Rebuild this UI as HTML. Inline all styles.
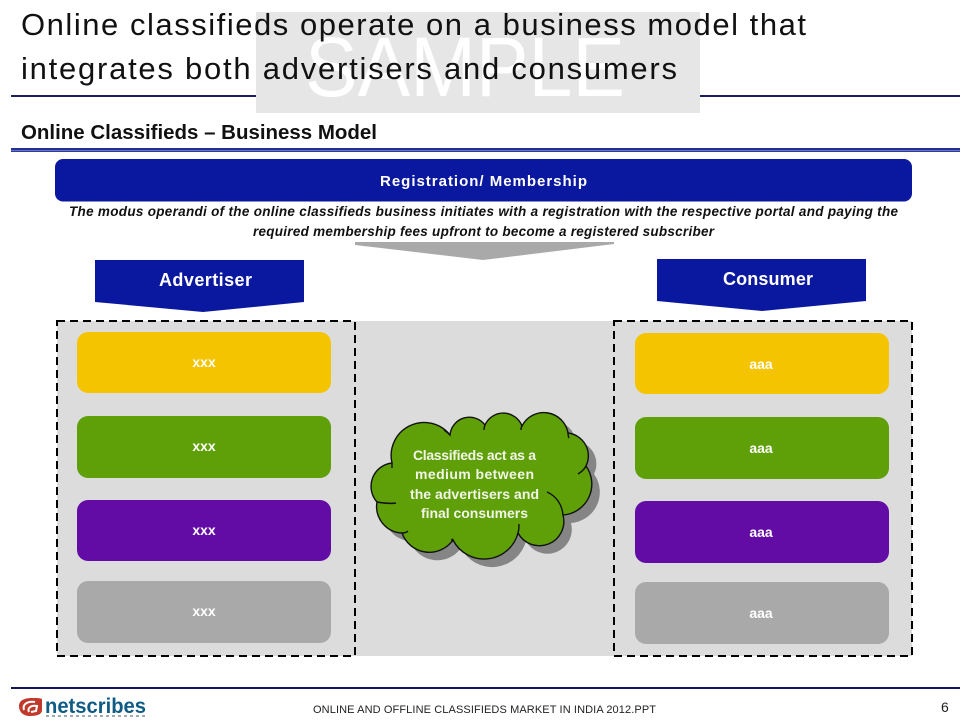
<!DOCTYPE html>
<html>
<head>
<meta charset="utf-8">
<style>
html,body{margin:0;padding:0;background:#fff;width:971px;height:728px;overflow:hidden}
svg{display:block}
text{font-family:"Liberation Sans",sans-serif}
</style>
</head>
<body>
<svg width="971" height="728" viewBox="0 0 971 728" xmlns="http://www.w3.org/2000/svg">
<rect width="971" height="728" fill="#fff"/>

<!-- header rule and watermark -->
<rect x="11" y="95" width="949" height="2" fill="#1b1f5e"/>
<rect x="256" y="12" width="444" height="101" fill="#e6e6e6"/>
<text x="305" y="96" font-size="84" fill="#fff" textLength="320" lengthAdjust="spacingAndGlyphs">SAMPLE</text>

<!-- title -->
<text x="21" y="35" font-size="31" fill="#111" textLength="785">Online classifieds operate on a business model that</text>
<text x="21" y="79" font-size="31" fill="#111" textLength="656">integrates both advertisers and consumers</text>

<!-- subtitle -->
<text x="21" y="139" font-size="20" font-weight="bold" fill="#111" textLength="356" lengthAdjust="spacingAndGlyphs">Online Classifieds – Business Model</text>
<rect x="11" y="148" width="949" height="2" fill="#232f93"/>
<rect x="11" y="150" width="949" height="1" fill="#6a77bd"/>
<rect x="11" y="151" width="949" height="1" fill="#2f3c9f"/>

<!-- registration bar -->
<rect x="55" y="159" width="857" height="42.500" rx="8" fill="#0a189f"/>
<text x="380" y="186" font-size="15" font-weight="bold" fill="#fff" textLength="207">Registration/ Membership</text>
<text x="69" y="216" font-size="13.500" font-weight="bold" font-style="italic" fill="#111" textLength="829">The modus operandi of the online classifieds business initiates with a registration with the respective portal and paying the</text>
<text x="253" y="236" font-size="13.500" font-weight="bold" font-style="italic" fill="#111" textLength="461">required membership fees upfront to become a registered subscriber</text>

<!-- grey down arrow -->
<polygon points="355,242 614,242 614,244 483,260 355,245" fill="#a9a9a9"/>

<!-- column headers -->
<polygon points="95,260 304,260 304,302 203,312 95,302" fill="#0a189f"/>
<text x="159" y="286" font-size="18" font-weight="bold" fill="#fff" textLength="93">Advertiser</text>
<polygon points="657,259 866,259 866,301 762,311 657,301" fill="#0a189f"/>
<text x="723" y="285" font-size="18" font-weight="bold" fill="#fff" textLength="90">Consumer</text>

<!-- grey band -->
<rect x="57" y="321" width="855" height="335" fill="#dcdcdc"/>
<rect x="57" y="321" width="298" height="335" fill="none" stroke="#000" stroke-width="2" stroke-dasharray="8 5"/>
<rect x="614" y="321" width="298" height="335" fill="none" stroke="#000" stroke-width="2" stroke-dasharray="8 5"/>

<!-- left cards -->
<rect x="77" y="332" width="254" height="61" rx="11" fill="#f5c400"/>
<rect x="77" y="416" width="254" height="62" rx="11" fill="#5f9f08"/>
<rect x="77" y="500" width="254" height="61" rx="11" fill="#630ca5"/>
<rect x="77" y="581" width="254" height="62" rx="11" fill="#a9a9a9"/>
<g font-size="14" font-weight="bold" fill="#fff" text-anchor="middle">
<text x="204" y="367">xxx</text>
<text x="204" y="451">xxx</text>
<text x="204" y="535">xxx</text>
<text x="204" y="616">xxx</text>
</g>

<!-- right cards -->
<rect x="635" y="333" width="254" height="61" rx="11" fill="#f5c400"/>
<rect x="635" y="417" width="254" height="62" rx="11" fill="#5f9f08"/>
<rect x="635" y="501" width="254" height="62" rx="11" fill="#630ca5"/>
<rect x="635" y="582" width="254" height="62" rx="11" fill="#a9a9a9"/>
<g font-size="14" font-weight="bold" fill="#fff" text-anchor="middle">
<text x="761" y="369">aaa</text>
<text x="761" y="453">aaa</text>
<text x="761" y="537">aaa</text>
<text x="761" y="618">aaa</text>
</g>

<!-- cloud -->
<path transform="translate(8,8)" fill="#858585" d="M392,463 A33,33 0 0 1 450,435 A19.500,19.500 0 0 1 485,425 A20,20 0 0 1 522,426 A24.500,24.500 0 0 1 568,433 A23,23 0 0 1 586,466 A31,31 0 0 1 563,515 A24.400,24.400 0 0 1 518,533 A35,35 0 0 1 453,540 A29,29 0 0 1 402,533 A26.500,26.500 0 0 1 377,502 A23.500,23.500 0 0 1 392,463 Z"/>
<path fill="#5f9f08" stroke="#111" stroke-width="1.400" d="M392,463 A33,33 0 0 1 450,435 A19.500,19.500 0 0 1 485,425 A20,20 0 0 1 522,426 A24.500,24.500 0 0 1 568,433 A23,23 0 0 1 586,466 A31,31 0 0 1 563,515 A24.400,24.400 0 0 1 518,533 A35,35 0 0 1 453,540 A29,29 0 0 1 402,533 A26.500,26.500 0 0 1 377,502 A23.500,23.500 0 0 1 392,463 Z"/>
<g fill="none" stroke="#111" stroke-width="1.400">
<path d="M586,466 C584,470 581,472 578,474"/>
<path d="M547,492 C556,496 562,504 563,515"/>
<path d="M518,533 C519,530 519,527 519,524"/>
<path d="M453,540 C452,544 451,537 453,540"/>
<path d="M377,502 C383,503 389,504 396,503"/>
<path d="M402,533 C404,533 406,533 408,531"/>
<path d="M450,435 C448,433 447,432 444,430"/>
<path d="M485,425 C484,427 484,428 484,430"/>
<path d="M522,426 C521,427 521,428 521,430"/>
<path d="M568,433 C568,435 568,436 569,438"/>
<path d="M392,463 C392,463 392,466 392,468"/>
</g>
<g font-size="14" font-weight="bold" fill="#f2f6e8">
<text x="413" y="460" textLength="123">Classifieds act as a</text>
<text x="415" y="479" textLength="119">medium between</text>
<text x="410" y="499" textLength="129">the advertisers and</text>
<text x="421" y="518" textLength="107">final consumers</text>
</g>

<!-- footer -->
<rect x="11" y="687" width="949" height="2" fill="#14145a"/>
<g>
<path d="M19,706 C19,700 25,698 32,698 C36,698 40,698 42,699 L42,710 C42,714 38,716 30,716 C23,716 19,712 19,706 Z" fill="#c0392b"/>
<path d="M24,710 C22,704 28,701 35,702" fill="none" stroke="#fff" stroke-width="2"/>
<path d="M29,712 C27,708 31,705 37,706 L36,711 L31,712" fill="none" stroke="#fff" stroke-width="2"/>
</g>
<text x="45" y="713" font-size="21" font-weight="bold" fill="#0f5b84" textLength="101" lengthAdjust="spacingAndGlyphs">netscribes</text>
<line x1="46" y1="716" x2="146" y2="716" stroke="#7f8f9a" stroke-width="1.500" stroke-dasharray="3 3"/>
<text x="313" y="713" font-size="11" fill="#222" textLength="343">ONLINE AND OFFLINE CLASSIFIEDS MARKET IN INDIA 2012.PPT</text>
<text x="941" y="712" font-size="14" fill="#222">6</text>
</svg>
</body>
</html>
